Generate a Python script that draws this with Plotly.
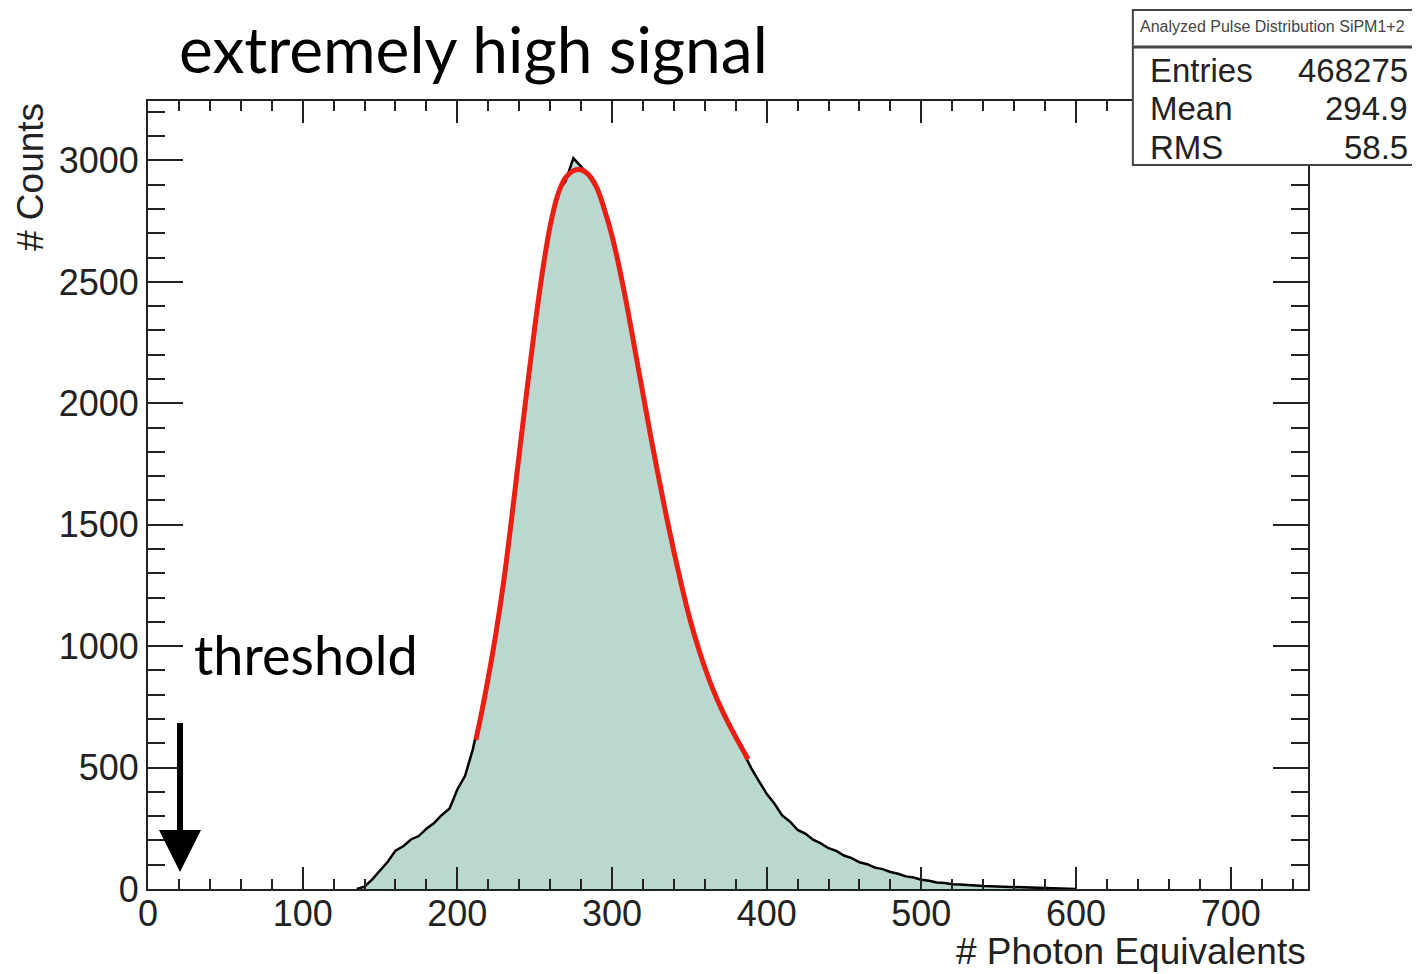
import plotly.graph_objects as go

# ---- data ----
bin_centers = [135, 140, 145, 150, 155, 160, 165, 170, 175, 180, 185, 190, 195, 200, 205, 210,
               215, 220, 225, 230, 235, 240, 245, 250, 255, 260, 265, 270, 275, 280, 285, 290,
               295, 300, 305, 310, 315, 320, 325, 330, 335, 340, 345, 350, 355, 360, 365, 370,
               375, 380, 385, 390, 395, 400, 405, 410, 415, 420, 425, 430, 435, 440, 445, 450,
               455, 460, 465, 470, 475, 480, 485, 490, 495, 500, 505, 510, 515, 520, 525, 530,
               535, 540, 545, 550, 555, 560, 565, 570, 575, 580, 585, 590, 595, 600]
counts = [0, 10, 40, 78, 112, 158, 176, 204, 218, 248, 272, 305, 332, 410, 466, 575,
          715, 885, 1055, 1275, 1505, 1795, 2045, 2315, 2545, 2745, 2870, 2915, 3010, 2975, 2935, 2885,
          2815, 2685, 2555, 2385, 2205, 2035, 1860, 1695, 1535, 1385, 1245, 1115, 1008, 910, 825, 750,
          688, 624, 566, 498, 444, 392, 352, 303, 278, 243, 228, 203, 188, 168, 157, 138,
          127, 110, 102, 88, 82, 70, 63, 52, 47, 38, 34, 27, 25, 20, 19, 15,
          14, 12, 11, 9, 9, 8, 8, 6, 6, 5, 5, 4, 3, 0]

fit_x = [212, 215, 220, 225, 230, 235, 240, 245, 250, 255, 260, 265, 270, 275, 280, 285,
         290, 295, 300, 305, 310, 315, 320, 325, 330, 335, 340, 345, 350, 355, 360, 365,
         370, 375, 380, 385, 388]
fit_y = [614, 704, 870, 1055, 1268, 1520, 1790, 2055, 2310, 2540, 2730, 2860, 2930, 2958, 2962, 2940,
         2890, 2800, 2690, 2550, 2390, 2215, 2040, 1865, 1700, 1540, 1390, 1250, 1120, 1010, 912, 826,
         752, 686, 626, 568, 534]

x_ticks = [0, 100, 200, 300, 400, 500, 600, 700]
y_ticks = [0, 500, 1000, 1500, 2000, 2500, 3000]

stats_title = "Analyzed Pulse Distribution SiPM1+2"
stats_labels = ["Entries", "Mean", "RMS"]
stats_values = ["468275", "294.9", "58.5"]

# ---- figure ----
fig = go.Figure()
fig.add_trace(go.Scatter(x=bin_centers, y=counts, mode="lines",
                         line=dict(color="black", width=2.5), fill="tozeroy",
                         fillcolor="rgb(186,215,208)", hoverinfo="skip", showlegend=False))
fig.add_trace(go.Scatter(x=fit_x, y=fit_y, mode="lines", line_shape="spline",
                         line=dict(color="rgb(235,30,20)", width=5), showlegend=False))

axis_font = dict(family="Liberation Sans, Arial, sans-serif", size=36, color="#222")
fig.update_xaxes(range=[0, 750], tickvals=x_ticks, ticks="inside", ticklen=22, tickwidth=2,
                 tickcolor="#222", showline=True, linecolor="#222", linewidth=2, mirror="ticks",
                 showgrid=False, zeroline=False, tickfont=axis_font, ticklabelstandoff=-8,
                 minor=dict(dtick=20, ticks="inside", ticklen=10, tickwidth=2, tickcolor="#222",
                            showgrid=False))
fig.update_yaxes(range=[0, 3245], tickvals=y_ticks, ticks="inside", ticklen=35, tickwidth=2,
                 tickcolor="#222", showline=True, linecolor="#222", linewidth=2, mirror="ticks",
                 showgrid=False, zeroline=False, tickfont=axis_font,
                 minor=dict(dtick=100, ticks="inside", ticklen=17, tickwidth=2, tickcolor="#222",
                            showgrid=False))

ann = []
ann.append(dict(text="extremely high signal", x=0.0259, y=1.066, xref="paper", yref="paper",
                xanchor="left", yanchor="middle", showarrow=False, borderpad=0,
                font=dict(family="Lato, sans-serif", size=64, color="black")))
ann.append(dict(text="threshold", x=0.0379, y=0.297, xref="paper", yref="paper",
                xanchor="left", yanchor="middle", showarrow=False,
                font=dict(family="Lato, sans-serif", size=54, color="black")))
ann.append(dict(text="# Photon Equivalents", x=1.0, y=-0.0787, xref="paper", yref="paper",
                xanchor="right", yanchor="middle", showarrow=False,
                font=dict(family="Liberation Sans, Arial, sans-serif", size=37, color="#222")))
ann.append(dict(text="# Counts", x=-0.1017, y=1.0, xref="paper", yref="paper",
                xanchor="center", yanchor="top", textangle=-90, showarrow=False,
                font=dict(family="Liberation Sans, Arial, sans-serif", size=37, color="#222")))
# threshold arrow
ann.append(dict(x=20.7, y=70, ax=20.7, ay=690, xref="x", yref="y", axref="x", ayref="y",
                text="", showarrow=True, arrowhead=2, arrowsize=1.4, arrowwidth=6,
                arrowcolor="black"))
# stats box text
ann.append(dict(text=stats_title, x=0.8535, y=1.095, xref="paper", yref="paper",
                xanchor="left", yanchor="middle", showarrow=False,
                font=dict(family="Liberation Sans, Arial, sans-serif", size=16, color="#444")))
stat_y = [1.0393, 0.9911, 0.9404]
for lab, val, yy in zip(stats_labels, stats_values, stat_y):
    ann.append(dict(text=lab, x=0.862, y=yy, xref="paper", yref="paper", xanchor="left",
                    yanchor="middle", showarrow=False,
                    font=dict(family="Liberation Sans, Arial, sans-serif", size=33, color="#222")))
    ann.append(dict(text=val, x=1.0879, y=yy, xref="paper", yref="paper", xanchor="right",
                    yanchor="middle", showarrow=False,
                    font=dict(family="Liberation Sans, Arial, sans-serif", size=33, color="#222")))

shapes = [
    dict(type="rect", xref="paper", yref="paper", x0=0.849, x1=1.2, y0=0.9188, y1=1.1155,
         line=dict(color="#444", width=2), fillcolor="white", layer="above"),
    dict(type="line", xref="paper", yref="paper", x0=0.849, x1=1.2, y0=1.0686, y1=1.0686,
         line=dict(color="#444", width=3), layer="above"),
    dict(type="line", xref="paper", yref="paper", x0=-0.1259, x1=-0.1259, y0=-0.2, y1=1.3,
         line=dict(color="#777", width=2)),
]

fig.update_layout(width=1420, height=974, margin=dict(l=140, r=120, t=93, b=93),
                  plot_bgcolor="white", paper_bgcolor="white", annotations=ann, shapes=shapes,
                  showlegend=False)

fig.write_html("out.html")
